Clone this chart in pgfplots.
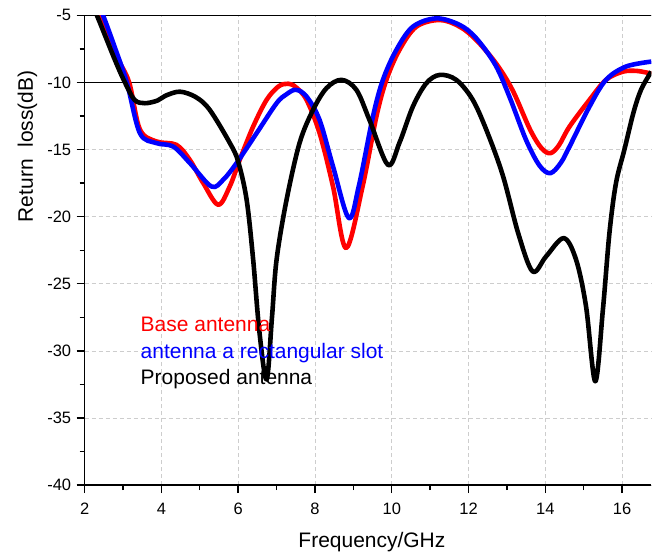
\documentclass[border=0pt]{standalone}
\usepackage{pgfplots}
\pgfplotsset{compat=1.18}
\usepackage{fontspec}
\setmainfont{Liberation Sans}
\definecolor{gridgray}{RGB}{205,205,205}
\begin{document}
\begin{tikzpicture}
\begin{axis}[
  scale only axis, width=567.3pt, height=470.4pt,
  xmin=2, xmax=16.76, ymin=-40, ymax=-5,
  axis x line*=bottom, axis y line*=left,
  axis line style={-, line width=1.4pt},
  xtick={2,4,...,16}, ytick={-40,-35,...,-5},
  minor x tick num=1, minor y tick num=1,
  tick align=outside,
  major tick length=8pt, minor tick length=5pt,
  every tick/.style={black, line width=1.4pt},
  grid=major, major grid style={gridgray, line width=0.8pt, dash pattern=on 4pt off 3pt},
  /pgf/number format/assume math mode=true,
  tick label style={font=\fontsize{16.5}{18}\selectfont},
  xticklabel style={anchor=base, yshift=-21pt},
  yticklabel style={anchor=east, xshift=-2pt},
  xlabel={Frequency/GHz},
  ylabel={Return\ \ loss(dB)},
  every axis x label/.style={at={(rel axis cs:0.507,0)}, anchor=base, yshift=-62.3pt, inner sep=0pt, font=\fontsize{21}{24}\selectfont},
  every axis y label/.style={at={(rel axis cs:0,0.721)}, xshift=-47.2pt, rotate=90, anchor=south, inner sep=0pt, font=\fontsize{21}{24}\selectfont},
  extra y ticks={-10,-5}, extra y tick labels={},
  extra y tick style={grid=major, major grid style={black, solid, line width=1.4pt}, major tick length=0pt},
  line join=round,
]
\addplot[red, line width=4.6pt, smooth, tension=0.55] coordinates {
(2.2,-3.9) (2.37,-5.0) (2.6,-6.6) (2.85,-8.2) (3.16,-10.0) (3.44,-13.5) (3.87,-14.4) (4.39,-14.65)
(4.74,-15.77) (5.09,-17.5) (5.48,-19.11) (5.78,-17.75) (6.04,-15.77) (6.39,-13.29) (6.74,-11.3)
(7.05,-10.3) (7.3,-10.1) (7.5,-10.35) (7.78,-11.3) (8.12,-13.78) (8.47,-17.75) (8.81,-22.34)
(9.24,-17.75) (9.6,-12.54) (9.86,-9.81) (10.2,-7.58) (10.64,-5.85) (11.25,-5.35) (11.77,-5.85)
(12.2,-6.84) (12.72,-8.6) (13.15,-10.6) (13.6,-13.5) (13.9,-14.9) (14.13,-15.27) (14.35,-14.7)
(14.63,-13.29) (15.15,-11.3) (15.58,-9.81) (16.02,-9.2) (16.4,-9.15) (16.76,-9.35)
};
\addplot[blue, line width=4.6pt, smooth, tension=0.55] coordinates {
(2.3,-3.9) (2.48,-5.0) (2.8,-7.5) (3.1,-10.0) (3.44,-13.78) (3.87,-14.52) (4.31,-14.78) (4.74,-16.0)
(5.3,-17.75) (5.61,-17.25) (5.96,-16.0) (6.48,-13.78) (7.0,-11.55) (7.25,-10.9) (7.5,-10.55)
(7.78,-11.05) (8.12,-12.8) (8.47,-16.26) (8.88,-20.1) (9.14,-17.75) (9.51,-12.54) (9.77,-9.81)
(10.12,-7.58) (10.55,-5.85) (11.16,-5.23) (11.77,-5.72) (12.2,-6.71) (12.7,-8.7) (13.07,-11.1)
(13.5,-14.3) (13.85,-16.2) (14.13,-16.76) (14.4,-16.0) (14.63,-14.78) (15.15,-11.8) (15.58,-9.81)
(16.1,-8.82) (16.76,-8.45)
};
\addplot[black, line width=4.6pt, smooth, tension=0.55] coordinates {
(2.15,-3.9) (2.32,-5.0) (2.79,-8.33) (3.05,-10.0) (3.3,-11.3) (3.57,-11.55) (3.9,-11.35) (4.1,-11.0)
(4.48,-10.69) (4.9,-11.1) (5.26,-12.05) (5.78,-14.5) (6.0,-15.9) (6.22,-18.74) (6.39,-23.2)
(6.55,-28.5) (6.74,-32.13) (6.88,-27.5) (7.0,-23.2) (7.26,-18.74) (7.6,-14.5) (7.95,-12.05)
(8.3,-10.43) (8.69,-9.81) (9.08,-10.56) (9.42,-12.8) (9.9,-16.14) (10.2,-14.5) (10.55,-11.8)
(10.9,-10.06) (11.25,-9.44) (11.68,-9.81) (12.11,-11.3) (12.5,-13.8) (12.9,-17.0) (13.3,-21.3)
(13.67,-24.08) (14.02,-22.96) (14.48,-21.6) (14.8,-23.2) (15.06,-26.68) (15.3,-32.26) (15.5,-26.9)
(15.67,-21.2) (15.84,-17.5) (16.06,-15.0) (16.3,-12.2) (16.5,-10.5) (16.76,-9.2)
};
\node[red, anchor=base west, inner sep=0pt, font=\fontsize{21}{24}\selectfont] at (axis cs:3.457,-28.59) {Base antenna};
\node[blue, anchor=base west, inner sep=0pt, font=\fontsize{21}{24}\selectfont] at (axis cs:3.457,-30.54) {antenna a rectangular slot};
\node[black, anchor=base west, inner sep=0pt, font=\fontsize{21}{24}\selectfont] at (axis cs:3.457,-32.49) {Proposed antenna};
\end{axis}
\path (current axis.south west) ++(-84.7pt,-67.3pt) rectangle (current axis.north east) ++(0pt,15.3pt);
\end{tikzpicture}
\end{document}
